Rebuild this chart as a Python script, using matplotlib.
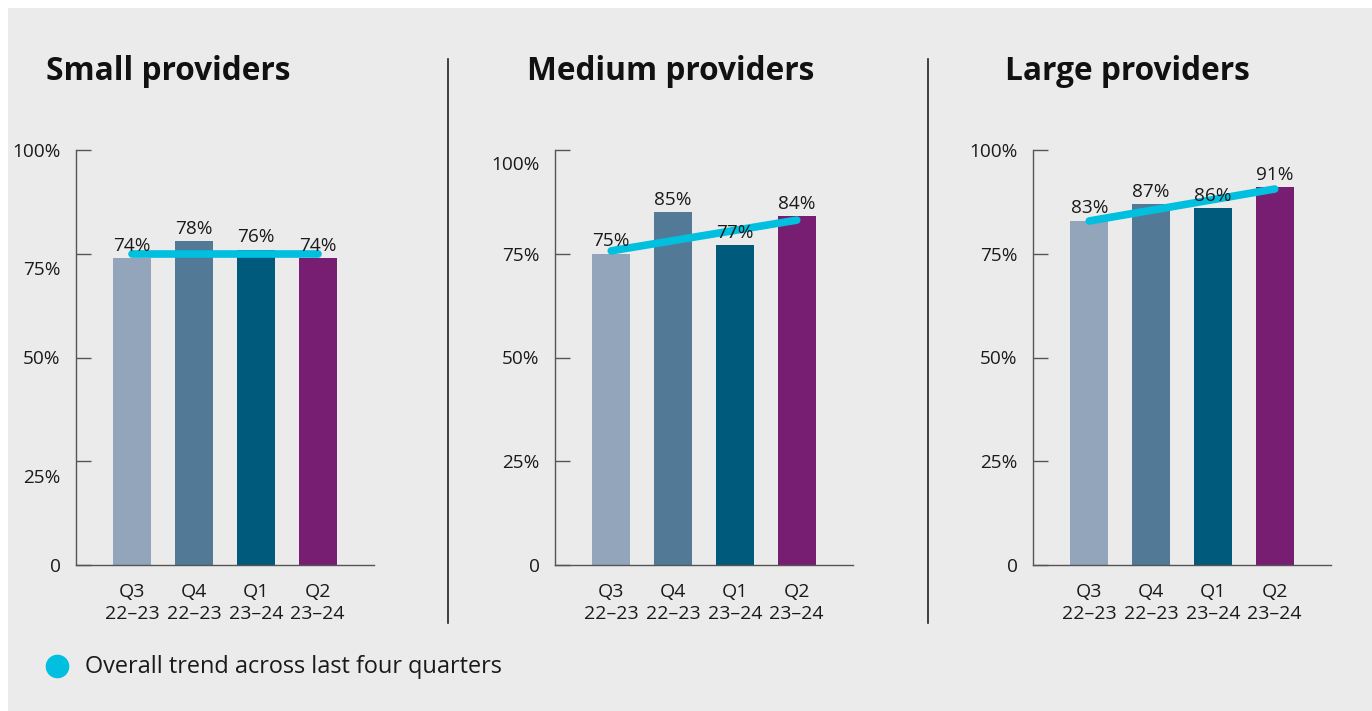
import numpy as np
import matplotlib.pyplot as plt
from matplotlib.patches import Rectangle
import matplotlib.transforms as mtransforms

plt.rcParams['font.family'] = ['Open Sans', 'DejaVu Sans']

quarters = ["Q3\n22\u201323", "Q4\n22\u201323", "Q1\n23\u201324", "Q2\n23\u201324"]
titles = ["Small providers", "Medium providers", "Large providers"]
small = [74, 78, 76, 74]
medium = [75, 85, 77, 84]
large = [83, 87, 86, 91]
# trend line end points (first quarter, last quarter)
trend_small = [75, 75]
trend_medium = [75.7, 83.1]
trend_large = [82.9, 90.6]
yticks = [0, 25, 50, 75, 100]
ytick_labels = ["0", "25%", "50%", "75%", "100%"]

bar_colors = ["#93a5ba", "#527a96", "#005a7c", "#781e72"]
trend_color = "#00bfdf"
text_color = "#1a1a1a"
axis_color = "#555555"

W, H = 1372, 711
fig = plt.figure(figsize=(W / 100, H / 100), dpi=100, facecolor="white")
fig.patches.append(Rectangle((8 / W, 0), 1, 1 - 8 / H, transform=fig.transFigure,
                             facecolor="#ebebeb", edgecolor="none", zorder=-10))

def px(x0, y_top, w, h):
    return [x0 / W, 1 - (y_top + h) / H, w / W, h / H]

panel_left = [76, 555, 1033]
title_x = [46, 527, 1005]
# odd label shifts seen in the original (pixels, per panel)
label_shift = [{75: -14, 25: -15}, {100: -13}, {}]

data = [small, medium, large]
trends = [trend_small, trend_medium, trend_large]
x = np.arange(len(quarters))

for i in range(3):
    ax = fig.add_axes(px(panel_left[i], 150, 298, 415))
    ax.patch.set_visible(False)
    ax.bar(x, data[i], width=0.61, color=bar_colors, zorder=2)
    ax.plot([x[0], x[-1]], trends[i], color=trend_color, lw=5.5,
            solid_capstyle="round", zorder=3, clip_on=False)
    for xi, v in zip(x, data[i]):
        ax.text(xi, v + 0.8, f"{v}%", ha="center", va="bottom", fontsize=13.7,
                color=text_color, zorder=4)
    ax.set_xlim(-0.91, 3.91)
    ax.set_ylim(0, 100)
    for s in ["top", "right"]:
        ax.spines[s].set_visible(False)
    for s in ["left", "bottom"]:
        ax.spines[s].set_color(axis_color)
        ax.spines[s].set_linewidth(1.0)
    ax.set_yticks(yticks)
    ax.set_yticklabels(ytick_labels)
    ax.set_xticks(x)
    ax.set_xticklabels(quarters, linespacing=1.3)
    ax.tick_params(axis="y", direction="in", length=10.5, width=1.0, color=axis_color,
                   labelsize=13.7, labelcolor=text_color, pad=11)
    ax.tick_params(axis="x", direction="in", length=10.5, width=1.0, color="#222222",
                   labelsize=14, labelcolor=text_color, pad=13)
    for val, lab in zip(yticks, ax.get_yticklabels()):
        if val in label_shift[i]:
            off = mtransforms.ScaledTranslation(0, label_shift[i][val] / 100, fig.dpi_scale_trans)
            lab.set_transform(lab.get_transform() + off)
    fig.text(title_x[i] / W, 1 - 71 / H, titles[i], fontsize=22.8, fontweight="bold",
             color="#111111", ha="left", va="center")

for xd in [448, 928]:
    fig.add_artist(plt.Line2D([xd / W, xd / W], [1 - 59 / H, 1 - 623 / H],
                              transform=fig.transFigure, color="#222222", lw=1.2))

fig.add_artist(plt.Line2D([57 / W], [1 - 666 / H], transform=fig.transFigure,
                          marker="o", markersize=16, color=trend_color, lw=0))
fig.text(85 / W, 1 - 667 / H, "Overall trend across last four quarters", fontsize=16.9,
         color=text_color, ha="left", va="center")

fig.savefig("out.png", dpi=100, facecolor=fig.get_facecolor())
